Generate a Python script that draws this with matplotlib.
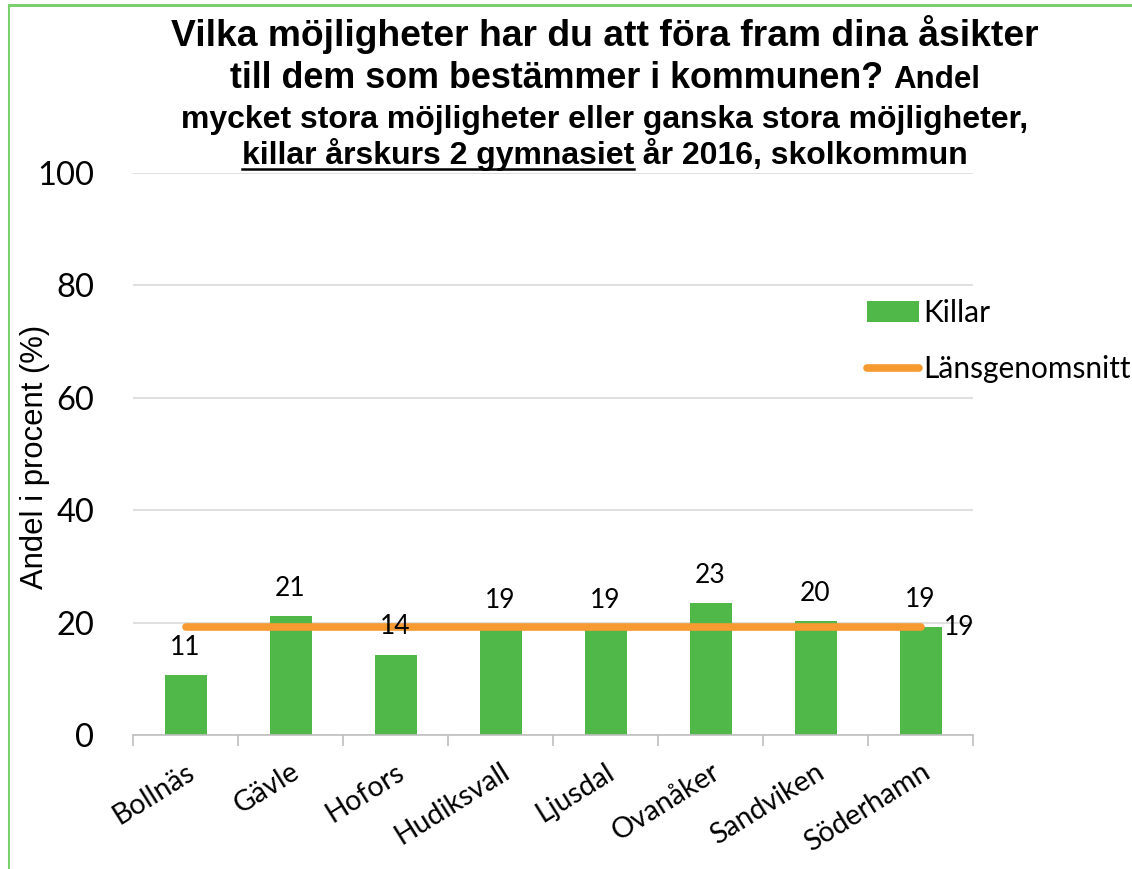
import matplotlib
matplotlib.use("Agg")
import matplotlib.pyplot as plt
import numpy as np
from matplotlib.patches import Patch
from matplotlib.lines import Line2D

# data
kommuner = ["Bollnäs", "Gävle", "Hofors", "Hudiksvall", "Ljusdal", "Ovanåker", "Sandviken", "Söderhamn"]
killar = [10.7, 21.1, 14.3, 19.0, 19.0, 23.4, 20.2, 19.2]
killar_etikett = ["11", "21", "14", "19", "19", "23", "20", "19"]
lansgenomsnitt = [19.3] * len(kommuner)
lans_etikett = "19"
yticks = [0, 20, 40, 60, 80, 100]

gron = "#50b848"
orange = "#f79a32"
sans = "Lato"

fig = plt.figure(figsize=(11.32, 8.69), dpi=100)
ax = fig.add_axes([133/1132, 1-735/869, 840/1132, (735-173)/869])

x = np.arange(len(kommuner))
ax.bar(x, killar, width=0.4, color=gron, zorder=2)
ax.plot(x, lansgenomsnitt, color=orange, lw=5.5, solid_capstyle="round", zorder=3)

for xi, v, t in zip(x, killar, killar_etikett):
    ax.annotate(t, (xi, v), xytext=(0, 20), textcoords="offset points",
                ha="center", va="center", fontsize=19, family=sans)
ax.annotate(lans_etikett, (x[-1], lansgenomsnitt[-1]), xytext=(28, -1), textcoords="offset points",
            ha="center", va="center", fontsize=19, family=sans)

ax.set_xlim(-0.5, len(kommuner) - 0.5)
ax.set_ylim(0, 100)
ax.set_yticks(yticks)
ax.set_yticklabels([str(v) for v in yticks], family=sans, fontsize=23.5)
ax.tick_params(axis="y", length=0, pad=28)
ax.yaxis.grid(True, color="#d9d9d9", lw=1.2, zorder=0)
ax.set_axisbelow(True)

ax.set_xticks(x)
ax.set_xticklabels(kommuner, rotation=32, ha="right", rotation_mode="anchor",
                   family=sans, fontsize=20.5)
ax.set_xticks(np.arange(len(kommuner) + 1) - 0.5, minor=True)
ax.tick_params(axis="x", which="major", length=0, pad=17)
ax.tick_params(axis="x", which="minor", length=8, color="#bfbfbf", width=1.2)

for s in ["top", "right", "left"]:
    ax.spines[s].set_visible(False)
ax.spines["bottom"].set_color("#bfbfbf")
ax.spines["bottom"].set_linewidth(1.2)

fig.text(35/1132, 1-457/869, "Andel i procent (%)", rotation=90, ha="center", va="center",
         family="Liberation Sans", fontsize=22.3)

# legend
handles = [Patch(facecolor=gron, edgecolor="none"),
           Line2D([0], [0], color=orange, lw=5.5, solid_capstyle="round")]
fig.legend(handles, ["Killar", "Länsgenomsnitt"], loc="upper left",
           bbox_to_anchor=(852/1132, 1-284/869), frameon=False,
           prop={"family": sans, "size": 21.5}, handlelength=1.75, handletextpad=0.15,
           labelspacing=0.95, borderpad=0)

# title built from pieces with different sizes
rad = [
    (35, [("Vilka möjligheter har du att föra fram dina åsikter", 26.8, False)]),
    (77, [("till dem som bestämmer i kommunen? ", 25.8, False), ("Andel", 22.5, False)]),
    (117, [("mycket stora möjligheter eller ganska stora möjligheter,", 23, False)]),
    (153, [("killar årskurs 2 gymnasiet", 23, True), (" år 2016, skolkommun", 23, False)]),
]
fig.canvas.draw()
r = fig.canvas.get_renderer()
mitt = 605
for ypix, delar in rad:
    texter = [fig.text(0, 0, t, fontsize=s, weight="bold", family="Liberation Sans",
                       va="baseline", ha="left") for t, s, u in delar]
    bredder = [tx.get_window_extent(r).width for tx in texter]
    start = mitt - sum(bredder) / 2
    yb = 1 - (ypix + 11) / 869
    for tx, b, (t, s, u) in zip(texter, bredder, delar):
        tx.set_position((start / 1132, yb))
        if u:
            fig.add_artist(Line2D([start / 1132, (start + b) / 1132], [yb - 5/869, yb - 5/869],
                                  color="black", lw=1.8))
        start += b

# ram
fig.add_artist(Line2D([9/1132, 9/1132], [0, 1-5/869], color="#7ccf6e", lw=1.5))
fig.add_artist(Line2D([9/1132, 1], [1-5/869, 1-5/869], color="#7ccf6e", lw=2.2))

fig.savefig("out.png", dpi=100)
